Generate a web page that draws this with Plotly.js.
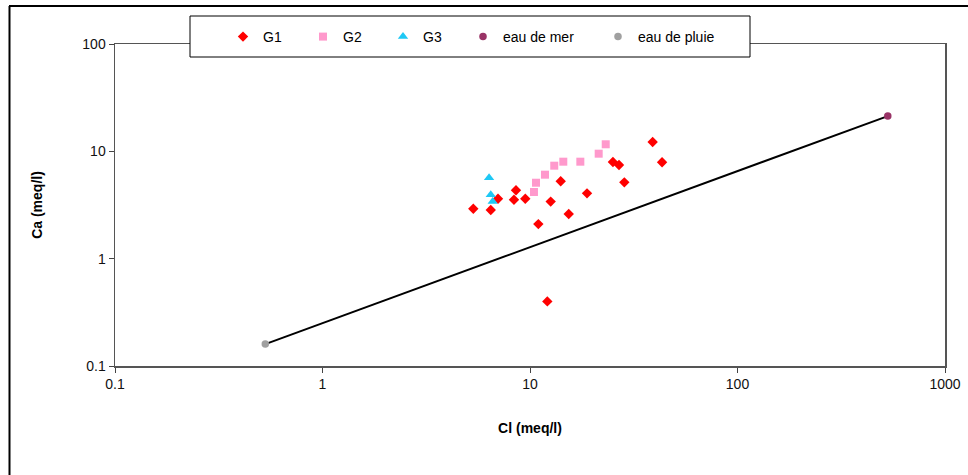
<!DOCTYPE html>
<html>
<head>
<meta charset="utf-8">
<script src="https://cdn.plot.ly/plotly-3.0.1.min.js"></script>
<style>
  html, body { margin: 0; padding: 0; background: #fff; }
  #chart { width: 968px; height: 475px; }
</style>
</head>
<body>
<div id="chart"></div>
<script>
// ---- data ----
const g1Cl = [5.33, 6.47, 7.01, 8.56, 8.37, 9.49, 10.97, 12.58, 14.06, 15.37, 18.83, 25.1, 26.85, 28.48, 39.0, 43.3, 12.12];
const g1Ca = [2.92, 2.84, 3.62, 4.34, 3.54, 3.62, 2.10, 3.40, 5.26, 2.61, 4.06, 7.96, 7.46, 5.14, 12.2, 7.91, 0.40];

const g2Cl = [10.45, 10.69, 11.81, 13.09, 14.47, 17.48, 21.43, 23.17];
const g2Ca = [4.18, 5.10, 6.06, 7.35, 8.01, 8.01, 9.51, 11.63];

const g3Cl = [6.35, 6.47, 6.61];
const g3Ca = [5.68, 3.94, 3.40];

const merCl = [530];
const merCa = [21.3];

const pluieCl = [0.53];
const pluieCa = [0.16];

const xTickVals = [0.1, 1, 10, 100, 1000];
const xTickText = ["0.1", "1", "10", "100", "1000"];
const yTickVals = [0.1, 1, 10, 100];
const yTickText = ["0.1", "1", "10", "100"];

// ---- geometry helpers (plot area in px) ----
const W = 968, H = 475;
const L = 115, R = 945, T = 44, B = 366;
const px2x = p => (p - L) / (R - L);
const px2y = p => (B - p) / (B - T);

const font = "Liberation Sans, Arial, sans-serif";

const traces = [
  { // mixing line rain -> sea water
    x: [pluieCl[0], merCl[0]], y: [pluieCa[0], merCa[0]],
    mode: "lines", line: { color: "#000000", width: 2 },
    showlegend: false, hoverinfo: "skip"
  },
  { name: "G1", x: g1Cl, y: g1Ca, mode: "markers", legend: "legend",
    marker: { symbol: "diamond", size: 8, color: "#ff0000" } },
  { name: "G2", x: g2Cl, y: g2Ca, mode: "markers", legend: "legend2",
    marker: { symbol: "square", size: 8, color: "#ff99cc" } },
  { name: "G3", x: g3Cl, y: g3Ca, mode: "markers", legend: "legend3",
    marker: { symbol: "triangle-up", size: 9, color: "#1ec8f5" } },
  { name: "eau de mer", x: merCl, y: merCa, mode: "markers", legend: "legend4",
    marker: { symbol: "circle", size: 7.5, color: "#993366" } },
  { name: "eau de pluie", x: pluieCl, y: pluieCa, mode: "markers", legend: "legend5",
    marker: { symbol: "circle", size: 7.5, color: "#a0a0a0" } }
];

function leg(px) {
  return {
    x: px2x(px), y: px2y(37), xanchor: "left", yanchor: "middle",
    orientation: "h", bgcolor: "rgba(0,0,0,0)", borderwidth: 0,
    font: { family: font, size: 14, color: "#000" }, itemwidth: 30
  };
}

const layout = {
  width: W, height: H,
  margin: { l: L, r: W - R, t: T, b: H - B, pad: 0 },
  paper_bgcolor: "#ffffff", plot_bgcolor: "#ffffff",
  showlegend: true,
  legend: leg(223), legend2: leg(303), legend3: leg(383), legend4: leg(463), legend5: leg(598),
  xaxis: {
    type: "log", range: [-1, 3], autorange: false,
    tickmode: "array", tickvals: xTickVals, ticktext: xTickText,
    ticks: "outside", ticklen: 5, tickcolor: "#444", tickwidth: 1,
    showline: true, linecolor: "#555", linewidth: 1.5, mirror: true,
    showgrid: false, zeroline: false,
    tickfont: { family: font, size: 14, color: "#111" },
    title: { text: "<b>Cl (meq/l)</b>", font: { family: font, size: 14, color: "#000" }, standoff: 32 }
  },
  yaxis: {
    type: "log", range: [-1, 2], autorange: false,
    tickmode: "array", tickvals: yTickVals, ticktext: yTickText,
    ticks: "outside", ticklen: 5, tickcolor: "#444", tickwidth: 1,
    showline: true, linecolor: "#555", linewidth: 1.5, mirror: true,
    showgrid: false, zeroline: false,
    tickfont: { family: font, size: 14, color: "#111" },
    title: { text: "<b>Ca (meq/l)</b>", font: { family: font, size: 14, color: "#000" }, standoff: 36 }
  },
  shapes: [
    { // legend box
      type: "rect", xref: "paper", yref: "paper", layer: "above",
      x0: px2x(190), x1: px2x(750), y0: px2y(57), y1: px2y(16),
      line: { color: "#000", width: 1 }, fillcolor: "#ffffff"
    },
    { // outer chart frame, top edge
      type: "line", xref: "paper", yref: "paper", layer: "above",
      x0: px2x(9), x1: px2x(968), y0: px2y(6), y1: px2y(6),
      line: { color: "#000", width: 2 }
    },
    { // outer chart frame, left edge
      type: "line", xref: "paper", yref: "paper", layer: "above",
      x0: px2x(9.5), x1: px2x(9.5), y0: px2y(6), y1: px2y(475),
      line: { color: "#000", width: 2 }
    }
  ]
};

Plotly.newPlot("chart", traces, layout, { displayModeBar: false, staticPlot: true });
</script>
</body>
</html>
